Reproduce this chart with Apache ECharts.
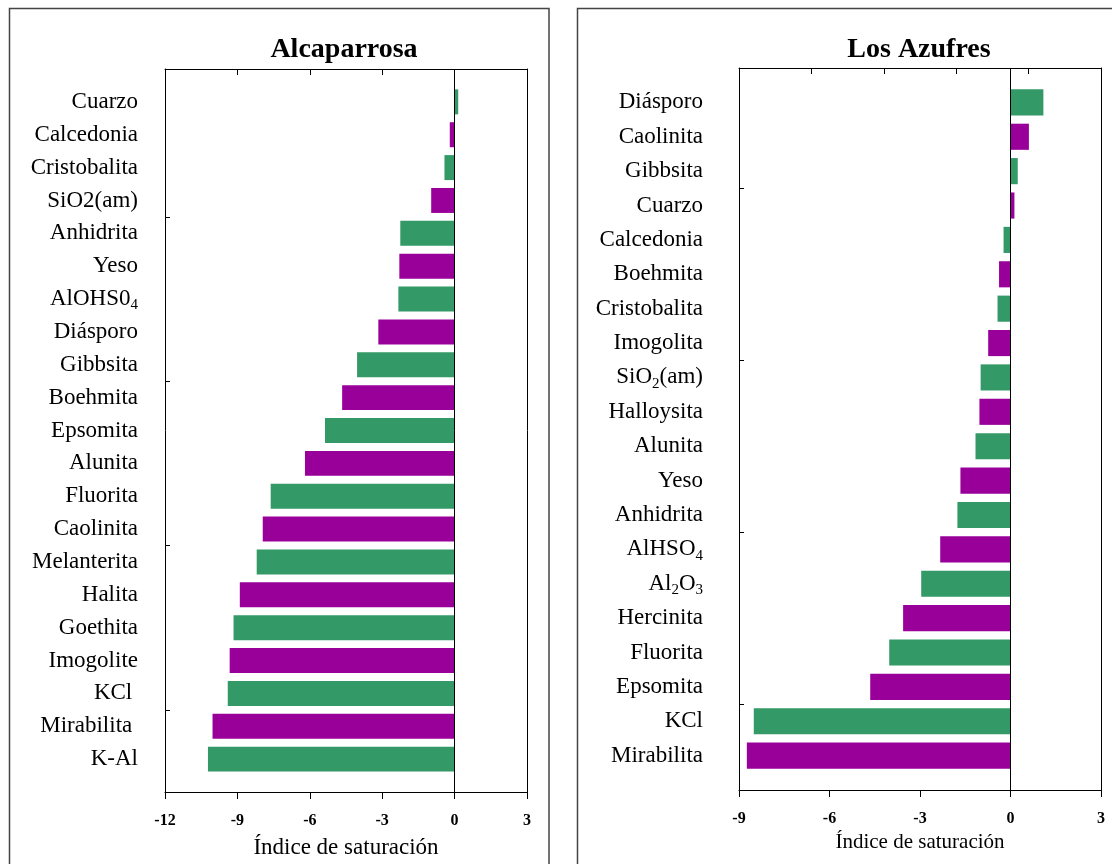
<!DOCTYPE html>
<html>
<head>
<meta charset="utf-8">
<script src="https://cdn.jsdelivr.net/npm/echarts@6/dist/echarts.min.js"></script>
<style>
  html, body { margin: 0; padding: 0; background: #fff; }
  #chart { width: 1112px; height: 864px; }
</style>
</head>
<body>
<div id="chart"></div>
<script>
// Saturation indices of minerals, two sites. "_d" marks a subscript digit.
const alcaTitle = 'Alcaparrosa';
const alcaCategories = ['Cuarzo', 'Calcedonia', 'Cristobalita', 'SiO2(am)', 'Anhidrita', 'Yeso',
  'AlOHS0_4', 'Diásporo', 'Gibbsita', 'Boehmita', 'Epsomita', 'Alunita', 'Fluorita', 'Caolinita',
  'Melanterita', 'Halita', 'Goethita', 'Imogolite', 'KCl ', 'Mirabilita ', 'K-Al'];
const alcaValues = [0.15, -0.2, -0.42, -0.97, -2.25, -2.29, -2.33, -3.16, -4.04, -4.66, -5.37,
  -6.2, -7.62, -7.95, -8.2, -8.9, -9.16, -9.32, -9.4, -10.03, -10.22];
const alcaRange = [-12, 3];

const azufresTitle = 'Los Azufres';
const azufresCategories = ['Diásporo', 'Caolinita', 'Gibbsita', 'Cuarzo', 'Calcedonia', 'Boehmita',
  'Cristobalita', 'Imogolita', 'SiO_2(am)', 'Halloysita', 'Alunita', 'Yeso', 'Anhidrita', 'AlHSO_4',
  'Al_2O_3', 'Hercinita', 'Fluorita', 'Epsomita', 'KCl', 'Mirabilita'];
const azufresValues = [1.09, 0.61, 0.24, 0.13, -0.23, -0.38, -0.43, -0.74, -0.99, -1.03, -1.16,
  -1.66, -1.76, -2.33, -2.96, -3.56, -4.02, -4.65, -8.51, -8.74];
const azufresRange = [-9, 3];

const axisTitle = 'Índice de saturación';

const GREEN = '#339966';
const PURPLE = '#990099';
const SERIF = '"Liberation Serif", "DejaVu Serif", serif';

const chart = echarts.init(document.getElementById('chart'), null, { renderer: 'canvas' });

const richLabels = {
  n: { fontFamily: SERIF, fontSize: 23, color: '#000', lineHeight: 28, verticalAlign: 'middle' },
  s: { fontFamily: SERIF, fontSize: 15, color: '#000', lineHeight: 16, verticalAlign: 'bottom' }
};
const formatName = v => '{n|' + v.replace(/_(\d)/g, '}{s|$1}{n|') + '}';

// Builds one panel: a frame grid (outer box, ticks, zero line) and an inset bar grid.
function panel(p, gi) {
  const n = p.categories.length;
  const unit = p.h / (n + 1);
  const grids = [
    { left: p.x, top: p.y, width: p.w, height: p.h },
    { left: p.x, top: p.y + unit / 2, width: p.w, height: p.h - unit }
  ];
  const line = { onZero: false, lineStyle: { color: '#000', width: 1 } };
  const xAxes = [
    { gridIndex: gi, type: 'value', position: 'bottom', min: p.range[0], max: p.range[1], interval: 3,
      axisLine: line, axisTick: { inside: false, length: 7, lineStyle: { color: '#000' } },
      splitLine: { show: false },
      axisLabel: { margin: 21, fontFamily: SERIF, fontWeight: 'bold', fontSize: 16, color: '#000' },
      name: axisTitle, nameLocation: 'middle', nameGap: p.nameGap,
      nameTextStyle: { fontFamily: SERIF, fontSize: p.nameSize, color: '#000' } },
    { gridIndex: gi, type: 'value', position: 'top', min: 0, max: 5, interval: 1,
      axisLine: line, axisTick: { inside: true, length: 6, lineStyle: { color: '#000' } },
      axisLabel: { show: false }, splitLine: { show: false } },
    { gridIndex: gi + 1, type: 'value', min: p.range[0], max: p.range[1], show: false }
  ];
  const yAxes = [
    { gridIndex: gi, type: 'value', position: 'left', min: 0, max: n + 1,
      axisLine: line,
      axisTick: { inside: true, length: 5, lineStyle: { color: '#000' },
        customValues: [2.5, 7.5, 12.5, 17.5] },
      axisLabel: { show: false }, splitLine: { show: false } },
    { gridIndex: gi, type: 'value', position: 'right', min: 0, max: n + 1,
      axisLine: line, axisTick: { show: false }, axisLabel: { show: false }, splitLine: { show: false } },
    { gridIndex: gi + 1, type: 'category', inverse: true, data: p.categories,
      axisLine: { show: false }, axisTick: { show: false },
      axisLabel: { margin: p.labelMargin, formatter: formatName, rich: richLabels } }
  ];
  return { grids, xAxes, yAxes };
}

const left = panel({ x: 165, y: 69, w: 362, h: 723, categories: alcaCategories, range: alcaRange,
  labelMargin: 27, nameGap: 44, nameSize: 23 }, 0);
const right = panel({ x: 739, y: 68, w: 362, h: 722, categories: azufresCategories, range: azufresRange,
  labelMargin: 36, nameGap: 42, nameSize: 21 }, 2);

function barSeries(values, xi, yi) {
  return {
    type: 'bar', xAxisIndex: xi, yAxisIndex: yi, barCategoryGap: '24%',
    data: values.map((v, i) => ({ value: v, itemStyle: { color: i % 2 === 0 ? GREEN : PURPLE } }))
  };
}
function zeroLine(xi, yi) {
  return {
    type: 'line', xAxisIndex: xi, yAxisIndex: yi, data: [[0, 0]], showSymbol: false, silent: true,
    lineStyle: { opacity: 0 },
    markLine: { silent: true, symbol: ['none', 'none'], label: { show: false },
      lineStyle: { color: '#000', width: 1, type: 'solid' }, data: [{ xAxis: 0 }] }
  };
}

chart.setOption({
  animation: false,
  backgroundColor: '#fff',
  grid: [...left.grids, ...right.grids],
  xAxis: [...left.xAxes, ...right.xAxes],
  yAxis: [...left.yAxes, ...right.yAxes],
  series: [
    barSeries(alcaValues, 2, 2),
    zeroLine(0, 0),
    barSeries(azufresValues, 5, 5),
    zeroLine(3, 3)
  ],
  graphic: [
    { type: 'rect', shape: { x: 9.5, y: 8.5, width: 539.5, height: 900 },
      style: { fill: 'none', stroke: '#444', lineWidth: 1.5 }, silent: true },
    { type: 'rect', shape: { x: 577.5, y: 8.5, width: 600, height: 900 },
      style: { fill: 'none', stroke: '#444', lineWidth: 1.5 }, silent: true },
    { type: 'text', x: 344, y: 50, silent: true,
      style: { text: alcaTitle, font: 'bold 28px ' + SERIF, fill: '#000', textAlign: 'center', textVerticalAlign: 'middle' } },
    { type: 'text', x: 919, y: 50, silent: true,
      style: { text: azufresTitle, font: 'bold 28px ' + SERIF, fill: '#000', textAlign: 'center', textVerticalAlign: 'middle' } }
  ]
});
</script>
</body>
</html>
